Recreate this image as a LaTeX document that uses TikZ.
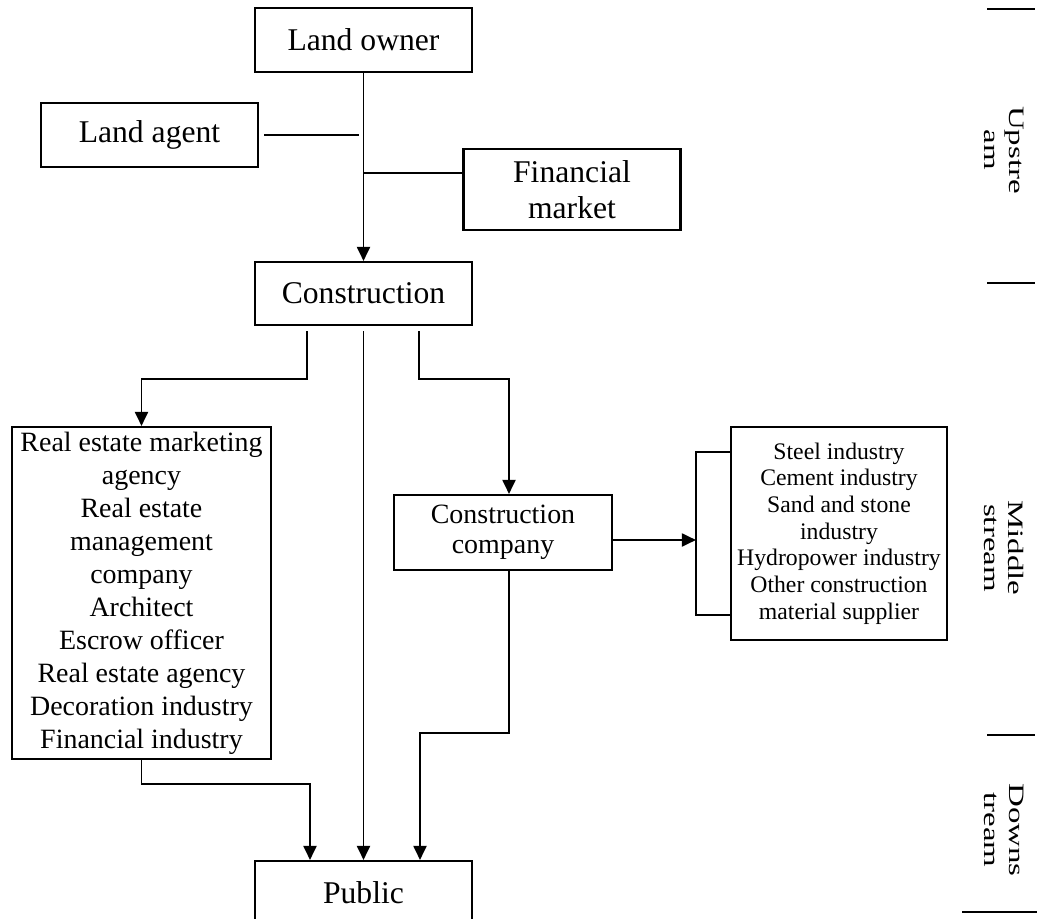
\documentclass[tikz,border=0pt]{standalone}
\usepackage{fontspec}
\setmainfont{Liberation Serif}
\usepackage{tikz}
\usetikzlibrary{arrows.meta, positioning, calc}
\newcommand\topfont{\fontsize{18}{20.5}\selectfont}
\newcommand\listfont{\fontsize{15.9}{18.8}\selectfont}
\newcommand\firmfont{\fontsize{15.9}{17.2}\selectfont}
\newcommand\supplyfont{\fontsize{13.5}{15.2}\selectfont}
\newcommand\lanefont{\fontsize{12.5}{14.2}\selectfont}
\tikzset{
  chainbox/.style={
    draw, line width=1.2pt, align=center, font=\topfont,
    minimum width=4.34cm, minimum height=1.28cm, inner sep=0pt
  },
  listbox/.style={
    draw, line width=1.2pt, align=center, inner sep=0pt
  },
  flowline/.style={line width=1.1pt},
  flowarrow/.style={
    -{Triangle[length=0.28cm,width=0.26cm]}, line width=1.1pt
  },
  lanelabel/.style={
    rotate=-90, xscale=1.5, align=center, font=\lanefont, inner sep=0pt
  },
  lanerule/.style={line width=1.1pt},
}
\begin{document}
\begin{tikzpicture}
  \useasboundingbox[fill=white] (0,0) rectangle (20.74,-18.38);

  % Upstream
  \node[chainbox] (owner) at (7.27,-0.80) {Land owner};
  \node[chainbox] (agent) at (2.99,-2.70) {Land agent};
  \node[chainbox, minimum height=1.62cm] (finance) at (11.44,-3.79)
    {Financial\\market};
  \node[chainbox, minimum height=1.26cm] (constr) at (7.27,-5.87)
    {Construction};

  % Middle stream
  \node[listbox, font=\listfont, minimum width=5.18cm, minimum height=6.64cm]
    (services) at (2.83,-11.86) {
    Real estate marketing\\agency\\Real estate\\management\\company\\
    Architect\\Escrow officer\\Real estate agency\\
    Decoration industry\\Financial industry
  };
  \node[listbox, font=\firmfont, minimum width=4.36cm, minimum height=1.50cm]
    (company) at (10.06,-10.65) {Construction\\company};
  \node[listbox, font=\supplyfont, minimum width=4.32cm, minimum height=4.26cm]
    (supply) at (16.78,-10.67) {
    Steel industry\\Cement industry\\Sand and stone\\industry\\
    Hydropower industry\\Other construction\\material supplier
  };

  % Downstream
  \node[chainbox, minimum height=1.26cm] (public) at (7.27,-17.85) {Public};

  % Land to construction
  \draw[flowarrow] (owner.south) -- (constr.north);
  \coordinate (trunkA) at (agent.east -| owner.south);
  \draw[flowline, shorten <=0.1cm, shorten >=0.1cm] (agent.east) -- (trunkA);
  \draw[flowline] ([yshift=0.33cm]finance.west)
    -- ([yshift=0.33cm]finance.west -| owner.south);

  % Construction branches
  \draw[flowarrow] ([xshift=-1.13cm,yshift=-0.1cm]constr.south)
    -- ++(0,-0.96) -| (services.north);
  \draw[flowarrow] ([yshift=-0.1cm]constr.south) -- (public.north);
  \draw[flowarrow] ([xshift=1.11cm,yshift=-0.1cm]constr.south)
    -- ++(0,-0.96) -| ([xshift=0.12cm]company.north);

  % Suppliers bracket
  \coordinate (brk) at ([xshift=-0.68cm]supply.west);
  \draw[flowline] ([yshift=1.63cm]supply.west) -| ([yshift=-1.63cm]brk)
    -- ([yshift=-1.63cm]supply.west);
  \draw[flowarrow] ([yshift=-0.15cm]company.east)
    -- ([yshift=-0.15cm]company.east -| brk);

  % To the public
  \draw[flowarrow] (services.south) -- ++(0,-0.48)
    -| ([xshift=-1.07cm]public.north);
  \draw[flowarrow] ([xshift=0.12cm]company.south) -- ++(0,-3.24)
    -| ([xshift=1.13cm]public.north);

  % Stream labels
  \node[lanelabel] (up) at (20.08,-3.00) {Upstre\\am};
  \node[lanelabel] (mid) at (20.08,-10.96) {Middle\\stream};
  \node[lanelabel] (down) at (20.08,-16.60) {Downs\\tream};
  \draw[lanerule] (19.74,-0.18) -- (20.70,-0.18);
  \draw[lanerule] (19.74,-5.66) -- (20.70,-5.66);
  \draw[lanerule] (19.74,-14.70) -- (20.70,-14.70);
  \draw[lanerule] (19.24,-18.24) -- (20.74,-18.24);
\end{tikzpicture}
\end{document}
